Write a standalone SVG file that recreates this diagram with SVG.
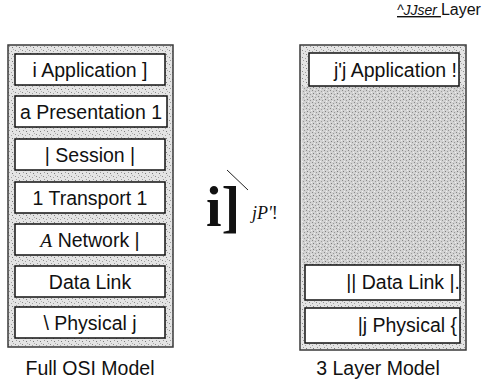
<svg xmlns="http://www.w3.org/2000/svg" width="490" height="380" viewBox="0 0 490 380">
<defs>
<pattern id="stip" width="7" height="7" patternUnits="userSpaceOnUse">
<rect width="7" height="7" fill="#e4e4e4"/>
<rect x="1" y="1" width="1" height="1" fill="#8a8a8a"/>
<rect x="4" y="2" width="1" height="1" fill="#a0a0a0"/>
<rect x="2" y="4" width="1" height="1" fill="#9a9a9a"/>
<rect x="5" y="5" width="1" height="1" fill="#7a7a7a"/>
<rect x="6" y="0" width="1" height="1" fill="#b0b0b0"/>
</pattern>
<pattern id="stipd" width="6" height="6" patternUnits="userSpaceOnUse">
<rect width="6" height="6" fill="#d2d2d2"/>
<rect x="0" y="0" width="1" height="1" fill="#888"/>
<rect x="3" y="1" width="1" height="1" fill="#9a9a9a"/>
<rect x="1" y="3" width="1" height="1" fill="#7c7c7c"/>
<rect x="4" y="4" width="1" height="1" fill="#959595"/>
<rect x="5" y="2" width="1" height="1" fill="#eee"/>
<rect x="2" y="5" width="1" height="1" fill="#f0f0f0"/>
</pattern>
</defs>
<style>
.frame{fill:url(#stip);stroke:#3a3a3a;stroke-width:1.5}
.box{fill:#fff;stroke:#111;stroke-width:1.5}
.t{font-family:"Liberation Sans",Arial,sans-serif;font-size:19.5px;fill:#111}
.tc{text-anchor:middle}
.te{text-anchor:end}
.cap{font-family:"Liberation Sans",Arial,sans-serif;font-size:19.5px;fill:#111;text-anchor:middle}
</style>
<g id="user-layer-label">
<text x="397" y="15" font-family="'Liberation Sans',Arial,sans-serif" font-size="16" fill="#111"><tspan font-style="italic" font-size="14" text-decoration="underline">^JJser </tspan><tspan>Layer</tspan></text>
</g>
<g id="osi-model">
<rect class="frame" x="8" y="45" width="165" height="302"/>
<g id="osi-application"><rect class="box" x="15" y="54" width="150" height="31"/><text class="t tc" x="90" y="77">i Application ]</text></g>
<g id="osi-presentation"><rect class="box" x="15" y="96" width="152" height="31"/><text class="t tc" x="91" y="119">a Presentation 1</text></g>
<g id="osi-session"><rect class="box" x="15" y="139" width="150" height="31"/><text class="t tc" x="90" y="162">| Session |</text></g>
<g id="osi-transport"><rect class="box" x="15" y="182" width="150" height="31"/><text class="t tc" x="90" y="205">1 Transport 1</text></g>
<g id="osi-network"><rect class="box" x="15" y="224" width="150" height="31"/><text class="t tc" x="90" y="247"><tspan font-family="'Liberation Serif',serif" font-style="italic">A</tspan> Network |</text></g>
<g id="osi-datalink"><rect class="box" x="15" y="266" width="150" height="31"/><text class="t tc" x="90" y="289">Data Link</text></g>
<g id="osi-physical"><rect class="box" x="15" y="307" width="150" height="31"/><text class="t tc" x="90" y="330">\ Physical j</text></g>
<text class="cap" x="90" y="375">Full OSI Model</text>
</g>
<g id="middle-symbol">
<text x="206" y="226" font-family="'Liberation Serif',serif" font-weight="bold" font-size="56" fill="#111">i]</text>
<path d="M227 170 L248 190" stroke="#222" stroke-width="1" fill="none"/>
<text x="252" y="219" font-family="'Liberation Serif',serif" font-size="18" fill="#111"><tspan font-style="italic">jP'</tspan>!</text>
</g>
<g id="three-layer-model">
<rect class="frame" x="300" y="45" width="166" height="305"/>
<rect x="302" y="86" width="162" height="179" fill="url(#stipd)"/>
<g id="tl-application"><rect class="box" x="309" y="53" width="150" height="33"/><text class="t te" x="457" y="77">j'j Application !</text></g>
<g id="tl-datalink"><rect class="box" x="305" y="265" width="155" height="35"/><text class="t te" x="460" y="289">|| Data Link |.</text></g>
<g id="tl-physical"><rect class="box" x="305" y="308" width="155" height="35"/><text class="t te" x="457" y="332">|j Physical {</text></g>
<text class="cap" x="378" y="375">3 Layer Model</text>
</g>
</svg>
